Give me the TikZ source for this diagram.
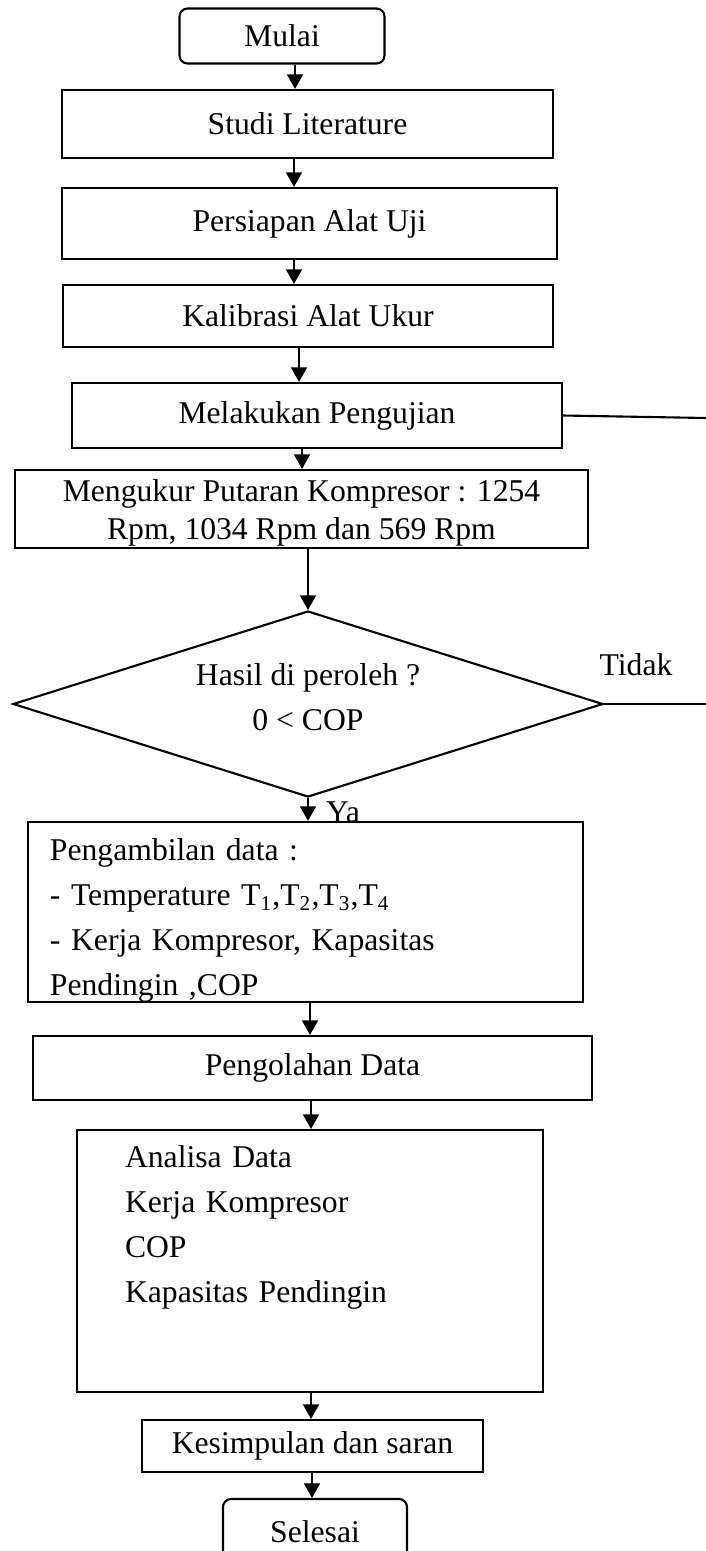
\documentclass[tikz,border=0pt]{standalone}
\usepackage{fontspec}
\setmainfont{Liberation Serif}
\usepackage{tikz}
\usetikzlibrary{arrows.meta,shapes.geometric,positioning}
\newcommand{\pu}{0.379pt}

\tikzset{
	procbox/.style={draw, rectangle, line width=0.8pt, inner sep=0pt, align=center},
	termbox/.style={procbox, rounded corners=8*\pu},
	decbox/.style={draw, diamond, aspect=3.1, line width=0.8pt, inner sep=0pt, align=center},
	flow/.style={-{Triangle[length=5.5pt,width=6pt]}, line width=0.8pt},
	plain/.style={line width=0.8pt},
}

\begin{document}
\begin{tikzpicture}[x=\pu, y=-\pu, font=\fontsize{12}{17}\selectfont]
\useasboundingbox (0,0) rectangle (706,1551);

\node[termbox, minimum width=205*\pu, minimum height=55*\pu] (mulai) at (282,36) {Mulai};
\node[procbox, minimum width=491*\pu, minimum height=68*\pu] (studi) at (307.5,124) {Studi Literature};
\node[procbox, minimum width=495*\pu, minimum height=71*\pu] (persiapan) at (309.5,223.5) {Persiapan Alat Uji};
\node[procbox, minimum width=490*\pu, minimum height=62*\pu] (kalibrasi) at (308,316) {Kalibrasi Alat Ukur};
\node[procbox, minimum width=490*\pu, minimum height=65*\pu] (uji) at (317,415.5) {Melakukan Pengujian};
\node[procbox, minimum width=573*\pu, minimum height=78*\pu, font=\fontsize{12}{14.5}\selectfont] (ukur) at (301.5,509)
	{\rule{0pt}{11pt}Mengukur Putaran Kompresor : 1254\\Rpm, 1034 Rpm dan 569 Rpm};
\node[decbox, minimum width=590*\pu, minimum height=186*\pu] (hasil) at (308,704)
	{Hasil di peroleh ?\\0 {\textless} COP\rule[-5pt]{0pt}{1pt}};
\node[procbox, minimum width=555*\pu, minimum height=180*\pu, text width=511*\pu, align=left] (ambil) at (305.5,912)
	{\rule{0pt}{14.7pt}Pengambilan data :\\
	- Temperature T\textsubscript{1},T\textsubscript{2},T\textsubscript{3},T\textsubscript{4}\\
	- Kerja Kompresor, Kapasitas\\
	Pendingin ,COP};
\node[procbox, minimum width=559*\pu, minimum height=64*\pu] (olah) at (312.5,1068) {Pengolahan Data};
\node[procbox, minimum width=466*\pu, minimum height=262*\pu, text width=370*\pu, align=left] (analisa) at (310,1261)
	{Analisa Data\\
	Kerja Kompresor\\
	COP\\
	Kapasitas Pendingin\rule[-28pt]{0pt}{1pt}};
\node[procbox, minimum width=341*\pu, minimum height=52*\pu] (simpul) at (312.5,1446) {Kesimpulan dan saran};
\node[termbox, minimum width=184*\pu, minimum height=66*\pu] (selesai) at (315,1532) {Selesai};

% labels
\node (tidak) at (636,665) {Tidak};
\node[anchor=base] (ya) at (343,822) {Ya};

% main flow
\draw[flow]([xshift= 13*\pu]mulai.south) -- ([xshift=-12.5*\pu]studi.north);
\draw[flow]([xshift=-13.5*\pu]studi.south) -- ([xshift=-15.5*\pu]persiapan.north);
\draw[flow]([xshift=-15.5*\pu]persiapan.south) -- ([xshift=-14*\pu]kalibrasi.north);
\draw[flow]([xshift=-9*\pu]kalibrasi.south) -- ([xshift=-18*\pu]uji.north);
\draw[flow]([xshift=-15*\pu]uji.south) -- ([xshift=0.5*\pu]ukur.north);
\draw[flow]([xshift=6.5*\pu]ukur.south) -- (hasil.north);
\draw[flow](hasil.south) -- ([xshift=2.5*\pu]ambil.north);
\draw[flow]([xshift=4.5*\pu]ambil.south) -- ([xshift=-2.5*\pu]olah.north);
\draw[flow]([xshift=-1.5*\pu]olah.south) -- ([xshift=1*\pu]analisa.north);
\draw[flow]([xshift=1*\pu]analisa.south) -- ([xshift=-1.5*\pu]simpul.north);
\draw[flow]([xshift=-0.5*\pu]simpul.south) -- ([xshift=-3*\pu]selesai.north);

% lines to the loop back
\coordinate (backA) at (706,418);
\coordinate (backB) at (706,702);
\draw[plain](uji.east) -- (backA);
\draw[plain](hasil.east) -- (hasil.east -| backB);
\end{tikzpicture}
\end{document}
